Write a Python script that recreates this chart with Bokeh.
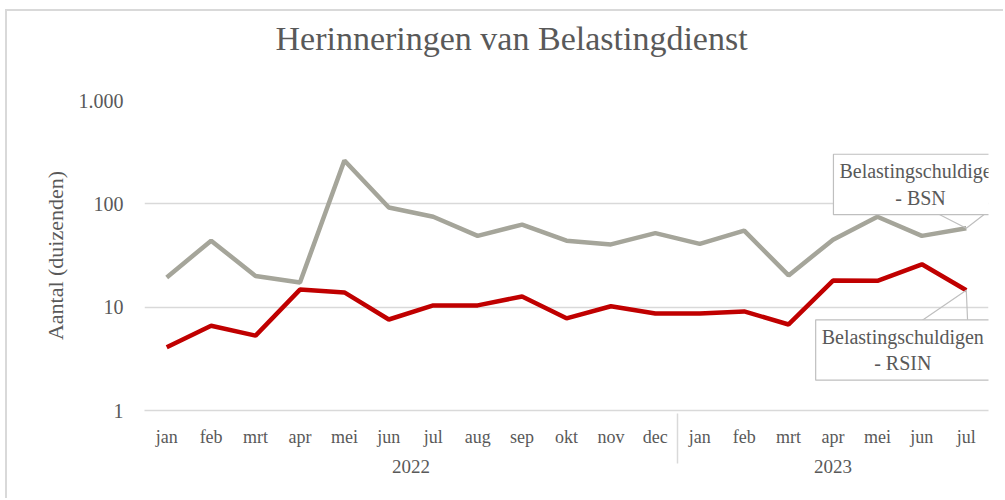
from bokeh.plotting import figure
from bokeh.models import FactorRange, FixedTicker, Label, CustomJSTickFormatter, Title
from bokeh.embed import file_html
from bokeh.resources import INLINE

months_2022 = ["jan", "feb", "mrt", "apr", "mei", "jun", "jul", "aug", "sep", "okt", "nov", "dec"]
months_2023 = ["jan", "feb", "mrt", "apr", "mei", "jun", "jul"]
bsn = [19.4, 44, 20, 17.3, 263, 92, 75, 49, 63, 44, 40.5, 52, 41, 55, 20.3, 45, 75, 49, 58]
rsin = [4.1, 6.6, 5.3, 14.8, 13.9, 7.6, 10.4, 10.4, 12.7, 7.8, 10.2, 8.7, 8.7, 9.1, 6.8, 18.1, 18, 26, 14.6]
y_ticks = [1, 10, 100, 1000]
title_text = "Herinneringen van Belastingdienst"
y_label = "Aantal (duizenden)"
label_bsn = "Belastingschuldigen\n- BSN"
label_rsin = "Belastingschuldigen\n- RSIN"

factors = [("2022", m) for m in months_2022] + [("2023", m) for m in months_2023]

FONT = "Liberation Serif"
TXT = "#595959"
GRID = "#d9d9d9"

# figure is offset by margins (7px left, 11px top) for the outer chart border
W, H = 998, 489
p = figure(
    width=W, height=H,
    x_range=FactorRange(*factors, factor_padding=0, group_padding=0, range_padding=0),
    y_range=(1, 1000), y_axis_type="log",
    output_backend="svg", toolbar_location=None,
    min_border_left=137, min_border_right=W - 981, min_border_top=89, min_border_bottom=H - 399,
)
p.outline_line_color = None
p.styles = {"margin-left": "5px", "margin-top": "9px",
            "border-left": "2px solid #d9d9d9", "border-top": "2px solid #d9d9d9"}

# main title (outer panel)
p.title.text = title_text
p.title.text_font = FONT
p.title.text_font_size = "34px"
p.title.text_font_style = "normal"
p.title.text_color = TXT
p.title.align = "left"
p.title.offset = 131
p.title.standoff = 13

# spacer between the title and the frame (added panel sits next to the frame)
p.add_layout(Title(text=" ", text_font=FONT, text_font_size="10px", standoff=24), "above")

p.line(factors, bsn, line_color="#a5a59a", line_width=4.5)
p.line(factors, rsin, line_color="#c00000", line_width=4.5)

# y axis
p.yaxis.ticker = FixedTicker(ticks=y_ticks, minor_ticks=[])
p.yaxis.formatter = CustomJSTickFormatter(code="return tick >= 1000 ? (tick/1000) + '.000' : tick.toString();")
p.yaxis.axis_line_color = None
p.yaxis.major_tick_line_color = None
p.yaxis.minor_tick_line_color = None
p.yaxis.major_label_text_font = FONT
p.yaxis.major_label_text_font_size = "20px"
p.yaxis.major_label_text_color = TXT
p.yaxis.major_label_standoff = 15
p.yaxis.axis_label = y_label
p.yaxis.axis_label_text_font = FONT
p.yaxis.axis_label_text_font_size = "22px"
p.yaxis.axis_label_text_font_style = "normal"
p.yaxis.axis_label_text_color = TXT
p.yaxis.axis_label_standoff = 8

p.ygrid.grid_line_color = GRID
p.ygrid.grid_line_width = 1.5
p.xgrid.grid_line_color = None

# x axis
p.xaxis.axis_line_color = GRID
p.xaxis.axis_line_width = 1.5
p.xaxis.major_tick_line_color = None
p.xaxis.minor_tick_line_color = None
p.xaxis.major_label_text_font = FONT
p.xaxis.major_label_text_font_size = "18px"
p.xaxis.major_label_text_color = TXT
p.xaxis.major_label_standoff = 10
p.xaxis.major_label_orientation = "horizontal"
p.xaxis.group_text_font = FONT
p.xaxis.group_text_font_size = "19px"
p.xaxis.group_text_font_style = "normal"
p.xaxis.group_text_color = TXT
p.xaxis.separator_line_color = GRID
p.xaxis.separator_line_width = 1.5

# callouts
p.line([17.85, 18.5, 18.93], [80.7, bsn[-1], 80.7], line_color="#bfbfbf", line_width=1.2)
p.line([17.47, 18.5, 18.53], [7.27, rsin[-1], 7.27], line_color="#bfbfbf", line_width=1.2)

for txt, xx, yy in [(label_bsn, 17.47, 154), (label_rsin, 17.07, 3.85)]:
    p.add_layout(Label(
        x=xx, y=yy, text=txt, text_align="center", text_baseline="middle",
        text_font=FONT, text_font_size="20px", text_color=TXT,
        background_fill_color="white", border_line_color="#bfbfbf", border_line_width=1.2,
        padding=6,
    ))

open("out.html", "w").write(file_html(p, INLINE))
